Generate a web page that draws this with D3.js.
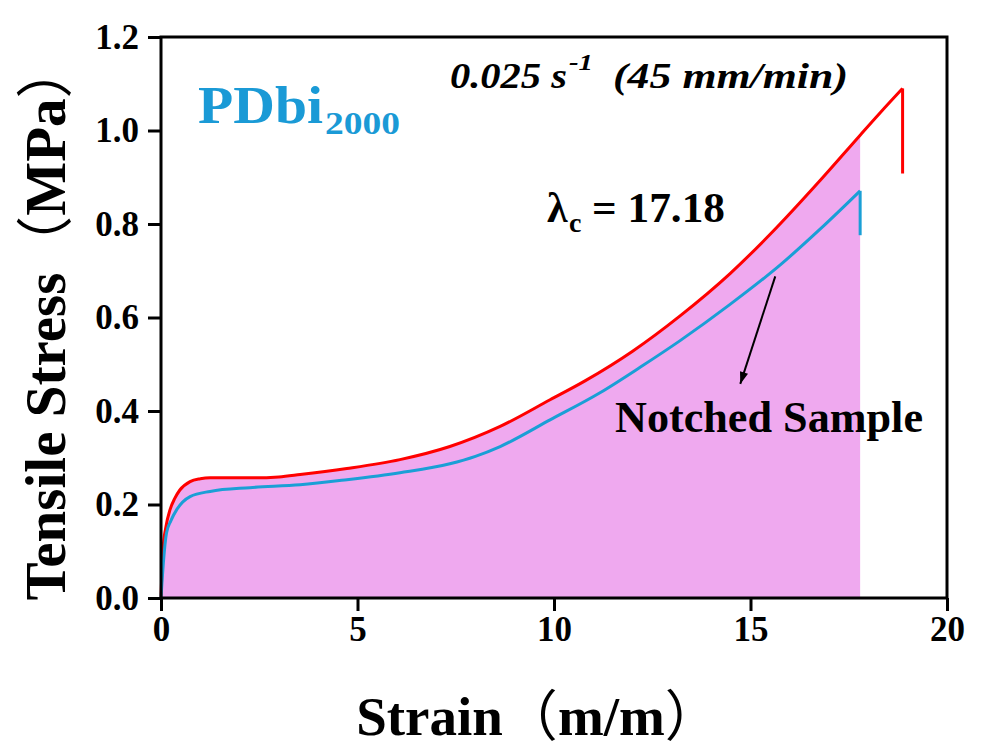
<!DOCTYPE html>
<html><head><meta charset="utf-8">
<script src="https://cdn.jsdelivr.net/npm/d3@7"></script>
<style>
html,body{margin:0;padding:0;background:#fff;}
svg{display:block;}
text{font-family:"Liberation Serif","Times New Roman",serif;font-weight:bold;}
</style></head>
<body>
<svg id="chart" width="981" height="750"></svg>
<script>
// ---- data ----
const redStrain = [0,0.02,0.05,0.12,0.23,0.35,0.48,0.74,1.0,1.25,2.26,3.0,3.54,4.73,6.08,7.35,8.63,9.9,10.8,12.0,13.2,14.48,15.5,16.77,17.79,18.3,18.87];
const redStress = [0,0.05,0.103,0.15,0.189,0.213,0.231,0.249,0.255,0.257,0.257,0.259,0.264,0.277,0.296,0.324,0.367,0.424,0.465,0.528,0.603,0.694,0.778,0.893,0.99,1.038,1.09];
const redBreakStress = 0.908;
const blueStrain = [0,0.03,0.06,0.14,0.25,0.4,0.74,1.25,2.26,3.54,4.73,6.08,7.35,8.0,8.63,9.9,11.17,12.2,13.2,14.48,15.75,16.77,17.79];
const blueStress = [0,0.04,0.075,0.139,0.165,0.189,0.217,0.228,0.236,0.242,0.253,0.268,0.287,0.303,0.324,0.381,0.439,0.494,0.55,0.628,0.712,0.789,0.871];
const blueBreakStress = 0.776;
const xTicks = [0,5,10,15,20];
const yTicks = [0,0.2,0.4,0.6,0.8,1.0,1.2];
const xTickLabels = ["0","5","10","15","20"];
const yTickLabels = ["0.0","0.2","0.4","0.6","0.8","1.0","1.2"];

// ---- layout ----
const L=161, R=947, T=37, B=598;
const svg = d3.select("#chart");
svg.append("rect").attr("width",981).attr("height",750).attr("fill","#fff");
const x = d3.scaleLinear().domain([0,20]).range([L,R]);
const y = d3.scaleLinear().domain([0,1.2]).range([B,T]);

const red = redStrain.map((d,i)=>[d,redStress[i]]);
const blue = blueStrain.map((d,i)=>[d,blueStress[i]]);
const fillEnd = blueStrain[blueStrain.length-1];
const fillData = red.filter(d=>d[0]<=fillEnd+1e-9);

// fill
svg.append("path").datum(fillData)
  .attr("d", d3.area().x(d=>x(d[0])).y0(y(0)).y1(d=>y(d[1])).curve(d3.curveMonotoneX))
  .attr("fill","#EFA9EF");

const line = d3.line().x(d=>x(d[0])).y(d=>y(d[1])).curve(d3.curveMonotoneX);
function drawCurve(data, brk, color){
  svg.append("path").datum(data).attr("d",line).attr("fill","none")
    .attr("stroke",color).attr("stroke-width",3).attr("stroke-linejoin","round");
  const last = data[data.length-1];
  svg.append("line").attr("x1",x(last[0])).attr("x2",x(last[0]))
    .attr("y1",y(last[1])).attr("y2",y(brk))
    .attr("stroke",color).attr("stroke-width",3);
}
drawCurve(red, redBreakStress, "#FF0000");
drawCurve(blue, blueBreakStress, "#1A9FD6");

// axes
const xAxis = d3.axisBottom(x).tickValues(xTicks).tickFormat((d,i)=>xTickLabels[i]).tickSize(13).tickPadding(5);
const yAxis = d3.axisLeft(y).tickValues(yTicks).tickFormat((d,i)=>yTickLabels[i]).tickSize(13).tickPadding(9);
const gx = svg.append("g").attr("transform",`translate(0,${B})`).call(xAxis);
const gy = svg.append("g").attr("transform",`translate(${L},0)`).call(yAxis);
[gx,gy].forEach(g=>{
  g.select(".domain").remove();
  g.selectAll(".tick line").attr("stroke","#000").attr("stroke-width",3);
  g.selectAll(".tick text").attr("fill","#000").attr("font-size",35)
    .attr("font-family","'Liberation Serif','Times New Roman',serif").attr("font-weight","bold");
});
gx.selectAll(".tick text").attr("dy","0.72em");
// frame
svg.append("rect").attr("x",L).attr("y",T).attr("width",R-L).attr("height",B-T)
  .attr("fill","none").attr("stroke","#000").attr("stroke-width",3);

// axis titles
const cjk = 'font-family:\'Noto Sans CJK SC\';font-weight:normal';
svg.append("text").attr("x",538).attr("y",735).attr("text-anchor","middle")
  .attr("font-size",55)
  .html(`Strain<tspan style="${cjk}">（</tspan>m/m<tspan style="${cjk}">）</tspan>`);
svg.append("text").attr("transform","translate(65,321) rotate(-90)").attr("text-anchor","middle")
  .attr("font-size",57)
  .html(`Tensile Stress<tspan style="${cjk}">（</tspan>MPa<tspan style="${cjk}">）</tspan>`);

// annotations
function t(txt,px,py,fs,len,opts={}){
  const e=svg.append("text").attr("x",px).attr("y",py).attr("font-size",fs).text(txt);
  if(len) e.attr("textLength",len).attr("lengthAdjust","spacingAndGlyphs");
  if(opts.italic) e.attr("font-style","italic");
  if(opts.fill) e.attr("fill",opts.fill);
  return e;
}
t("PDbi",198,123,52,125,{fill:"#1A9AD6"});
t("2000",325,134,32,75,{fill:"#1A9AD6"});
t("0.025 s",450,88,36,117,{italic:true});
t("-1",569,70,23,24,{italic:true});
t("(45 mm/min)",613,88,36,235,{italic:true});
t("λ",547,222,42,null);
t("c",569,232,28,null);
t("= 17.18",592,222,42,133);
t("Notched Sample",615,432,44,308);

// arrow
svg.append("defs").append("marker").attr("id","ah").attr("viewBox","0 0 10 10")
  .attr("refX",10).attr("refY",5).attr("markerWidth",8).attr("markerHeight",6)
  .attr("markerUnits","strokeWidth").attr("orient","auto")
  .append("path").attr("d","M0,1.5 L10,5 L0,8.5 Z").attr("fill","#000");
svg.append("line").attr("x1",x(15.63)).attr("y1",y(0.688)).attr("x2",x(14.74)).attr("y2",y(0.458))
  .attr("stroke","#000").attr("stroke-width",2).attr("marker-end","url(#ah)");
</script>
</body></html>
